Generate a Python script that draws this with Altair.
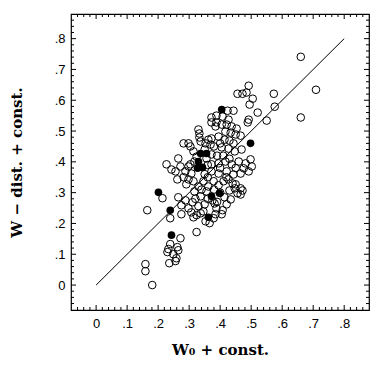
import altair as alt
import pandas as pd

# open circles
open_x = [0.660, 0.709, 0.660, 0.573, 0.576, 0.550, 0.521, 0.492, 0.456, 0.472,
          0.485, 0.505, 0.495, 0.492, 0.489, 0.424, 0.443, 0.372, 0.388, 0.408,
          0.372, 0.388, 0.427, 0.385, 0.405, 0.421, 0.437, 0.453, 0.330, 0.333,
          0.333, 0.337, 0.417, 0.434, 0.450, 0.466, 0.282, 0.298, 0.304, 0.372,
          0.395, 0.414, 0.430, 0.443, 0.353, 0.369, 0.362, 0.405, 0.427, 0.447,
          0.469, 0.314, 0.324, 0.356, 0.372, 0.265, 0.272, 0.288, 0.307, 0.282,
          0.372, 0.395, 0.417, 0.437, 0.460, 0.482, 0.498, 0.502, 0.492, 0.476,
          0.372, 0.395, 0.421, 0.443, 0.466, 0.227, 0.256, 0.262, 0.298, 0.243,
          0.298, 0.214, 0.165, 0.239, 0.265, 0.275, 0.275, 0.288, 0.298, 0.272,
          0.239, 0.233, 0.230, 0.262, 0.265, 0.249, 0.259, 0.256, 0.236, 0.159,
          0.159, 0.181, 0.324, 0.314, 0.324, 0.337, 0.353, 0.366, 0.408, 0.405,
          0.430, 0.447, 0.456, 0.472, 0.311, 0.307, 0.388, 0.382, 0.375, 0.379,
          0.450, 0.466, 0.466, 0.291, 0.314, 0.330, 0.346, 0.362, 0.379, 0.395,
          0.411, 0.427, 0.317, 0.337, 0.356, 0.414, 0.434, 0.330, 0.350, 0.421,
          0.346, 0.385, 0.317, 0.304, 0.350, 0.360, 0.390, 0.400, 0.410, 0.430,
          0.450, 0.350, 0.380, 0.400, 0.420, 0.440, 0.360, 0.380, 0.400, 0.340,
          0.320, 0.360, 0.390]
open_y = [0.741, 0.634, 0.544, 0.621, 0.579, 0.534, 0.560, 0.647, 0.621, 0.621,
          0.625, 0.605, 0.586, 0.537, 0.528, 0.566, 0.566, 0.544, 0.550, 0.547,
          0.528, 0.528, 0.537, 0.515, 0.521, 0.521, 0.515, 0.508, 0.505, 0.492,
          0.479, 0.466, 0.498, 0.495, 0.489, 0.485, 0.460, 0.460, 0.450, 0.476,
          0.482, 0.472, 0.469, 0.460, 0.460, 0.456, 0.472, 0.447, 0.443, 0.434,
          0.440, 0.434, 0.417, 0.411, 0.424, 0.411, 0.385, 0.369, 0.362, 0.350,
          0.392, 0.395, 0.401, 0.392, 0.401, 0.395, 0.408, 0.385, 0.369, 0.379,
          0.369, 0.362, 0.369, 0.359, 0.362, 0.392, 0.369, 0.343, 0.343, 0.375,
          0.385, 0.282, 0.243, 0.217, 0.285, 0.259, 0.230, 0.275, 0.249, 0.152,
          0.133, 0.117, 0.107, 0.123, 0.113, 0.100, 0.087, 0.078, 0.071, 0.068,
          0.045, 0.000, 0.172, 0.220, 0.227, 0.233, 0.207, 0.201, 0.243, 0.230,
          0.307, 0.314, 0.298, 0.307, 0.269, 0.236, 0.249, 0.265, 0.275, 0.217,
          0.327, 0.314, 0.294, 0.327, 0.337, 0.320, 0.337, 0.320, 0.337, 0.324,
          0.337, 0.343, 0.304, 0.288, 0.304, 0.285, 0.278, 0.256, 0.262, 0.262,
          0.239, 0.230, 0.401, 0.392, 0.360, 0.390, 0.420, 0.380, 0.420, 0.410,
          0.380, 0.440, 0.450, 0.460, 0.350, 0.330, 0.350, 0.310, 0.300, 0.310,
          0.280, 0.280, 0.270]

# filled circles
filled_x = [0.405, 0.498, 0.201, 0.239, 0.243, 0.362, 0.372, 0.398, 0.337,
            0.356, 0.330, 0.327, 0.343]
filled_y = [0.570, 0.460, 0.301, 0.243, 0.162, 0.220, 0.288, 0.298, 0.427,
            0.427, 0.401, 0.379, 0.382]

# reference line
line_x = [0.0, 0.8]
line_y = [0.0, 0.8]

major_ticks = [0.0, 0.1, 0.2, 0.3, 0.4, 0.5, 0.6, 0.7, 0.8]
minor_ticks = [-0.06, -0.04, -0.02, 0.02, 0.04, 0.06, 0.08, 0.12, 0.14, 0.16,
               0.18, 0.22, 0.24, 0.26, 0.28, 0.32, 0.34, 0.36, 0.38, 0.42,
               0.44, 0.46, 0.48, 0.52, 0.54, 0.56, 0.58, 0.62, 0.64, 0.66,
               0.68, 0.72, 0.74, 0.76, 0.78, 0.82, 0.84, 0.86]

DOM = [-0.081, 0.88]
W, H = 298, 296
MAJOR_LEN, MINOR_LEN = 5, 3
LABEL_EXPR = "datum.value == 0 ? '0' : replace(format(datum.value, '.1f'), '0.', '.')"

open_df = pd.DataFrame({"x": open_x, "y": open_y})
filled_df = pd.DataFrame({"x": filled_x, "y": filled_y})
line_df = pd.DataFrame({"x": line_x, "y": line_y})

SPAN = DOM[1] - DOM[0]
PX_X = SPAN / W   # data units per pixel, horizontally
PX_Y = SPAN / H   # data units per pixel, vertically


def tick_frame(vals, length, unit):
    # tick positions along the edge plus the inward extent at both edges
    return pd.DataFrame({
        "v": vals,
        "lo0": DOM[0], "lo1": DOM[0] + length * unit,
        "hi0": DOM[1], "hi1": DOM[1] - length * unit,
    })


def sc():
    return alt.Scale(domain=DOM, nice=False, zero=False)


def label_axis(orient, title, title_pad, label_pad):
    return alt.Axis(orient=orient, values=major_ticks, labelExpr=LABEL_EXPR,
                    ticks=False, tickSize=0, domain=False, grid=False,
                    labelFont="Liberation Sans", labelFontSize=13,
                    labelColor="black", labelPadding=label_pad,
                    title=title, titleFont="DejaVu Serif",
                    titleFontWeight="bold", titleFontSize=15,
                    titleColor="black", titlePadding=title_pad)


def X(field):
    return alt.X(field, scale=sc(), axis=label_axis("bottom", "W₀ + const.", 12, 7))


def Y(field):
    return alt.Y(field, scale=sc(), axis=label_axis("left", "W − dist. + const.", 30, 6))


line = alt.Chart(line_df).mark_line(color="black", strokeWidth=1).encode(
    x=X("x:Q"), y=Y("y:Q"))

pts_open = alt.Chart(open_df).mark_point(
    shape="circle", filled=False, size=58, strokeWidth=1, color="black", opacity=1
).encode(x=X("x:Q"), y=Y("y:Q"))

pts_filled = alt.Chart(filled_df).mark_circle(
    size=58, color="black", opacity=1
).encode(x=X("x:Q"), y=Y("y:Q"))


def x_ticks(vals, length):
    df = tick_frame(vals, length, PX_Y)
    base = alt.Chart(df).mark_rule(color="black", strokeWidth=1)
    bottom = base.encode(x=X("v:Q"), y=Y("lo0:Q"), y2="lo1:Q")
    top = base.encode(x=X("v:Q"), y=Y("hi0:Q"), y2="hi1:Q")
    return [bottom, top]


def y_ticks(vals, length):
    df = tick_frame(vals, length, PX_X)
    base = alt.Chart(df).mark_rule(color="black", strokeWidth=1)
    left = base.encode(y=Y("v:Q"), x=X("lo0:Q"), x2="lo1:Q")
    right = base.encode(y=Y("v:Q"), x=X("hi0:Q"), x2="hi1:Q")
    return [left, right]


tick_layers = (x_ticks(major_ticks, MAJOR_LEN) + x_ticks(minor_ticks, MINOR_LEN)
               + y_ticks(major_ticks, MAJOR_LEN) + y_ticks(minor_ticks, MINOR_LEN))

chart = alt.layer(line, pts_open, pts_filled, *tick_layers).properties(
    width=W, height=H, background="white",
    padding={"left": 1, "top": 5, "right": 2, "bottom": 2},
).configure_view(stroke="black", strokeWidth=1.2)

chart.save("out.html", embed_options={"renderer": "svg", "actions": False})
